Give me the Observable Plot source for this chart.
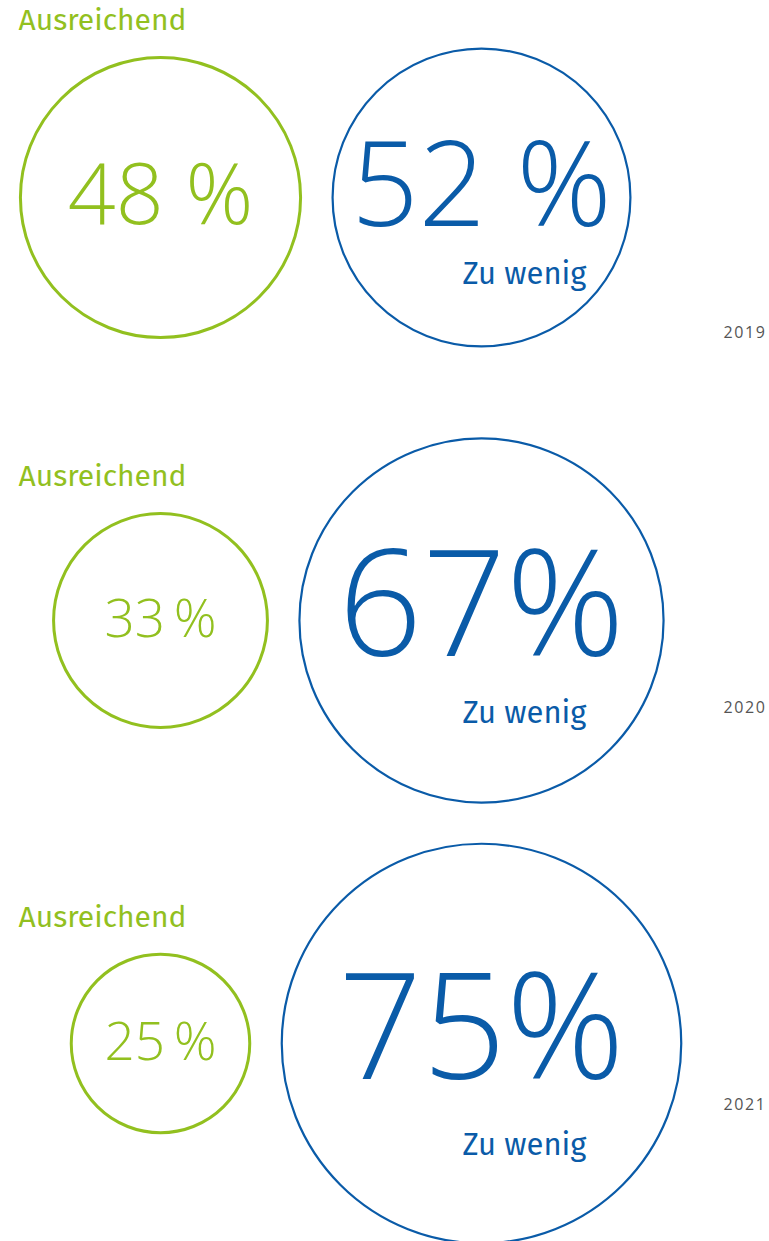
<!DOCTYPE html>
<html>
<head>
<meta charset="utf-8">
<script src="https://cdn.jsdelivr.net/npm/d3@7"></script>
<script src="https://cdn.jsdelivr.net/npm/@observablehq/plot@0.6"></script>
<style>
  html, body { margin: 0; padding: 0; background: #fff; }
  #chart svg { display: block; }
</style>
</head>
<body>
<div id="chart"></div>
<script>
// ---- data ----
const years = ["2019", "2020", "2021"];
const categories = ["Ausreichend", "Zu wenig"];
const ausreichend = [48, 33, 25];
const zuWenig = [52, 67, 75];
const ausreichendLabels = ["48 %", "33\u2009%", "25\u2009%"];
const zuWenigLabels = ["52 %", "67%", "75%"];

// ---- table ----
const rows = [];
years.forEach((year, i) => {
  rows.push({year, category: categories[0], value: ausreichend[i], label: ausreichendLabels[i]});
  rows.push({year, category: categories[1], value: zuWenig[i], label: zuWenigLabels[i]});
});
const green = rows.filter(d => d.category === categories[0]);
const blue = rows.filter(d => d.category === categories[1]);

const GREEN = "#92c01f";
const BLUE = "#0a5ba8";
const GREY = "#555555";

const rOptions = {type: "linear", domain: [0, 100], range: [34, 255]};
const rScale = Plot.scale({r: rOptions});
const rOf = v => rScale.apply(v);
// typographic size scale for the big percentages
const fontOf = d3.scaleLinear().domain([33, 48, 52, 67]).range([53, 84, 118, 147]).clamp(true);
const greenByYear = new Map(green.map(d => [d.year, d.value]));

// shift y positions (in pixels) per datum, using data-driven offsets
const shiftY = (data, fn) => (index, scales, values, dims, ctx, next) => {
  const y = Float64Array.from(values.y, (y, i) => y + fn(data[i]));
  return next(index, scales, {...values, y}, dims, ctx);
};

const plot = Plot.plot({
  width: 769,
  height: 1241,
  margin: 0,
  x: {type: "point", domain: categories, range: [160, 481], padding: 0, axis: null},
  y: {type: "point", domain: years, range: [197, 1043], padding: 0, axis: null},
  r: rOptions,
  style: {background: "#fff"},
  marks: [
    Plot.dot(green, {x: "category", y: "year", r: "value", stroke: GREEN, strokeWidth: 3, fill: "none"}),
    Plot.dot(blue, {x: "category", y: "year", r: "value", stroke: BLUE, strokeWidth: 2.2, fill: "none"}),
    // green percentages
    Plot.text(green, {
      x: "category", y: "year", text: "label",
      fill: GREEN, fontFamily: "'Open Sans', Lato, sans-serif", fontWeight: 300,
      fontSize: d => fontOf(d.value),
      textAnchor: "middle"
    }),
    // blue percentages
    Plot.text(blue, {
      x: "category", y: "year", text: "label",
      fill: BLUE, fontFamily: "'Open Sans', Lato, sans-serif", fontWeight: 300,
      fontSize: d => fontOf(d.value),
      textAnchor: "middle",
      render: shiftY(blue, d => -0.08 * fontOf(d.value))
    }),
    // category label "Ausreichend"
    Plot.text(green, {
      y: "year", text: "category", frameAnchor: "left", dx: 18,
      textAnchor: "start", fill: GREEN, fontSize: 30,
      fontFamily: "'Fira Sans', 'Open Sans', sans-serif", fontWeight: 400,
      render: shiftY(green, d => -rOf(d.value) - 37)
    }),
    // category label "Zu wenig"
    Plot.text(blue, {
      x: "category", y: "year", text: "category", dx: -19,
      textAnchor: "start", fill: BLUE, fontSize: 31,
      fontFamily: "'Fira Sans', 'Open Sans', sans-serif", fontWeight: 400,
      render: shiftY(blue, d => 0.5 * rOf(d.value) + 2)
    }),
    // year labels
    Plot.text(years, {
      y: d => d, text: d => d, frameAnchor: "right", dx: -3,
      textAnchor: "end", fill: GREY, fontSize: 16,
      fontFamily: "'Open Sans', sans-serif", fontWeight: 500,
      render: shiftY(years, y => 1.45 * rOf(greenByYear.get(y)) - 68)
    })
  ]
});

document.getElementById("chart").appendChild(plot);
d3.select(plot).selectAll("text").filter(function() { return years.includes(this.textContent); })
  .style("letter-spacing", "1.6px");
</script>
</body>
</html>
